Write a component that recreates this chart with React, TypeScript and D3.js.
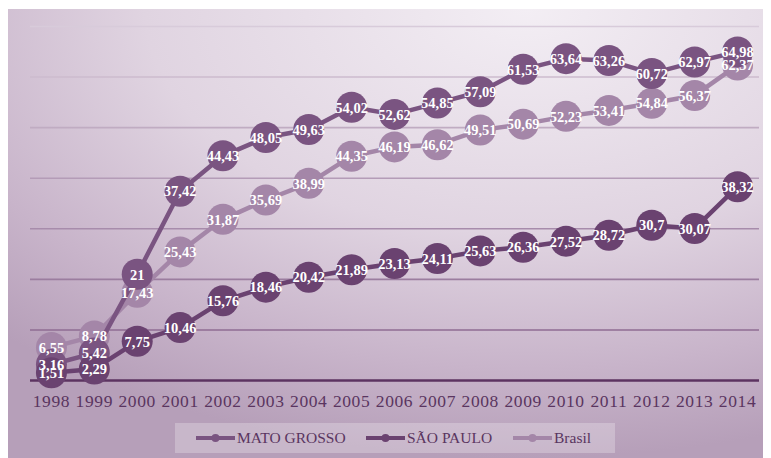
import React from "react";
import * as d3 from "d3";

const years = ["1998", "1999", "2000", "2001", "2002", "2003", "2004", "2005", "2006", "2007", "2008", "2009", "2010", "2011", "2012", "2013", "2014"];
const matoGrosso = [3.16, 5.42, 21, 37.42, 44.43, 48.05, 49.63, 54.02, 52.62, 54.85, 57.09, 61.53, 63.64, 63.26, 60.72, 62.97, 64.98];
const saoPaulo = [1.51, 2.29, 7.75, 10.46, 15.76, 18.46, 20.42, 21.89, 23.13, 24.11, 25.63, 26.36, 27.52, 28.72, 30.7, 30.07, 38.32];
const brasil = [6.55, 8.78, 17.43, 25.43, 31.87, 35.69, 38.99, 44.35, 46.19, 46.62, 49.51, 50.69, 52.23, 53.41, 54.84, 56.37, 62.37];
const yTicks = [0, 10, 20, 30, 40, 50, 60, 70];

const seriesNames = ["MATO GROSSO", "SÃO PAULO", "Brasil"];
const seriesColors = ["#7a5481", "#6a4270", "#a486a8"];

const W = 763;
const H = 450;
const serif = "'Liberation Serif', 'Times New Roman', serif";

export default function App() {
  const x = d3.scaleBand<string>().domain(years).range([22, 751]);
  const y = d3.scaleLinear().domain([0, 70]).range([372.5, 18.5]);
  const cx = (yr: string) => (x(yr) ?? 0) + x.bandwidth() / 2;

  const line = d3
    .line<number>()
    .x((_, i) => cx(years[i]))
    .y((v) => y(v));

  const series = [
    { name: seriesNames[0], values: matoGrosso, color: seriesColors[0] },
    { name: seriesNames[1], values: saoPaulo, color: seriesColors[1] },
    { name: seriesNames[2], values: brasil, color: seriesColors[2] },
  ];
  // Brasil sits underneath, the two states above it
  const drawOrder = [series[2], series[0], series[1]];

  const gridColor = d3.interpolateRgb("#d8cbda", "#8f6d93");
  const fmt = (v: number) => String(v).replace(".", ",");

  const legendX = 167;
  const legendItems = [
    { s: series[0], lx: 21, tx: 62 },
    { s: series[1], lx: 191, tx: 232 },
    { s: series[2], lx: 338, tx: 379 },
  ];

  return (
    <svg width={W} height={H} style={{ display: "block" }}>
      <defs>
        <radialGradient id="bg" cx="0.68" cy="0" r="1" fx="0.68" fy="0">
          <stop offset="0" stopColor="#f3eef4" />
          <stop offset="0.5" stopColor="#e0d4e1" />
          <stop offset="0.8" stopColor="#c8b4ca" />
          <stop offset="1" stopColor="#b69fb9" />
        </radialGradient>
      </defs>
      <rect x={0} y={1} width={W} height={H - 1} fill="url(#bg)" />

      {yTicks.slice(1).map((t, i) => (
        <line
          key={t}
          x1={22}
          x2={751}
          y1={y(t)}
          y2={y(t)}
          stroke={gridColor(1 - i / (yTicks.length - 2))}
          strokeWidth={1.6}
        />
      ))}
      <line x1={22} x2={751} y1={y(0)} y2={y(0)} stroke="#5c3361" strokeWidth={2.6} />

      {years.map((yr) => (
        <text
          key={yr}
          x={cx(yr)}
          y={399}
          textAnchor="middle"
          fontFamily={serif}
          fontSize={17.5}
          letterSpacing={0.6}
          fill="#5a3560"
        >
          {yr}
        </text>
      ))}

      {drawOrder.map((s) => (
        <g key={s.name}>
          <path d={line(s.values) ?? ""} fill="none" stroke={s.color} strokeWidth={4.5} strokeLinejoin="round" />
          {s.values.map((v, i) => (
            <circle key={i} cx={cx(years[i])} cy={y(v)} r={15.5} fill={s.color} />
          ))}
        </g>
      ))}

      {drawOrder.map((s) =>
        s.values.map((v, i) => (
          <text
            key={s.name + i}
            x={cx(years[i])}
            y={y(v)}
            dy="0.36em"
            textAnchor="middle"
            fontFamily={serif}
            fontWeight="bold"
            fontSize={14.5}
            fill="#ffffff"
          >
            {fmt(v)}
          </text>
        ))
      )}

      <g transform={`translate(${legendX},415)`}>
        <rect x={0} y={0} width={440} height={30} fill="#ffffff" fillOpacity={0.25} />
        {legendItems.map(({ s, lx, tx }) => (
          <g key={s.name}>
            <line x1={lx} x2={lx + 39} y1={15} y2={15} stroke={s.color} strokeWidth={4} />
            <circle cx={lx + 19.5} cy={15} r={4} fill={s.color} />
            <text
              x={tx}
              y={15}
              dy="0.35em"
              fontFamily={serif}
              fontSize={15.5}
              fill="#5a3560"
            >
              {s.name}
            </text>
          </g>
        ))}
      </g>
    </svg>
  );
}
